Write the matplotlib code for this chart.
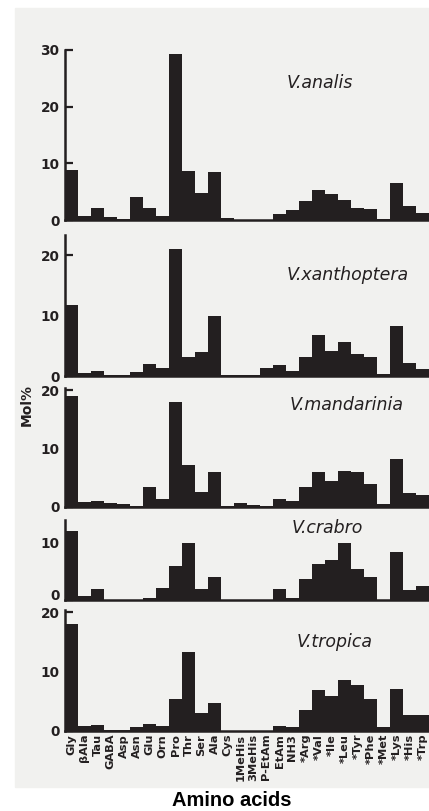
import matplotlib.pyplot as plt
from matplotlib.patches import Rectangle

# amino acid categories (x axis)
amino_acids = ['Gly', 'βAla', 'Tau', 'GABA', 'Asp', 'Asn', 'Glu', 'Orn', 'Pro',
               'Thr', 'Ser', 'Ala', 'Cys', '1MeHis', '3MeHis', 'P-EtAm', 'EtAm',
               'NH3', '*Arg', '*Val', '*Ile', '*Leu', '*Tyr', '*Phe', '*Met',
               '*Lys', '*His', '*Trp']

# Mol% per species
analis = [8.8, 0.7, 2.2, 0.5, 0.1, 4.1, 2.2, 0.7, 29.2, 8.7, 4.8, 8.4, 0.3,
          0.0, 0.0, 0.0, 1.0, 1.8, 3.4, 5.3, 4.5, 3.6, 2.1, 1.9, 0.2, 6.5, 2.4, 1.2]
xanthoptera = [11.8, 0.55, 0.8, 0.1, 0.1, 0.7, 2.0, 1.4, 21.0, 3.1, 3.9, 10.0, 0.1,
               0.1, 0.1, 1.3, 1.9, 0.9, 3.2, 6.8, 4.2, 5.7, 3.6, 3.2, 0.4, 8.3, 2.2, 1.1]
mandarinia = [19.0, 0.8, 1.0, 0.7, 0.5, 0.1, 3.5, 1.4, 17.9, 7.2, 2.6, 6.0, 0.1,
              0.7, 0.35, 0.1, 1.3, 1.0, 3.5, 6.0, 4.4, 6.2, 6.0, 4.0, 0.5, 8.2, 2.4, 2.1]
crabro = [12.0, 0.7, 1.9, 0.0, 0.0, 0.0, 0.4, 2.1, 6.0, 9.9, 1.9, 4.0, 0.0,
          0.0, 0.0, 0.0, 1.9, 0.4, 3.6, 6.2, 6.9, 10.0, 5.4, 4.0, 0.0, 8.3, 1.7, 2.5]
tropica = [17.9, 0.8, 1.0, 0.2, 0.2, 0.7, 1.15, 0.8, 5.4, 13.2, 3.0, 4.7, 0.0,
           0.0, 0.0, 0.0, 0.9, 0.6, 3.6, 6.9, 5.9, 8.6, 7.7, 5.4, 0.6, 7.0, 2.7, 2.7]

species = ['V.analis', 'V.xanthoptera', 'V.mandarinia', 'V.crabro', 'V.tropica']
series = [analis, xanthoptera, mandarinia, crabro, tropica]
yticks = [[0, 10, 20, 30], [0, 10, 20], [0, 10, 20], [0, 10], [0, 10, 20]]

# layout (pixels): baseline y, px per unit, y max, species label pos
W, H = 429, 811
layout = [(220, 5.67, 30.0, 0.61, 24.2),
          (376, 6.03, 23.4, 0.61, 16.7),
          (507, 5.85, 20.3, 0.618, 17.4),
          (600, 5.75, 14.0, 0.624, 12.5),
          (731, 5.95, 20.4, 0.637, 15.0)]

bar_color = '#231f20'

fig = plt.figure(figsize=(W / 100, H / 100), dpi=100)
fig.patch.set_facecolor('white')
bg = Rectangle((15 / W, 1 - 787 / H), 1, 779 / H, transform=fig.transFigure,
               color='#f1f1ef', zorder=-10)
fig.add_artist(bg)

x = range(len(amino_acids))
for i, (name, vals, ticks, lay) in enumerate(zip(species, series, yticks, layout)):
    base, unit, ymax, lx, ly = lay
    ax = fig.add_axes([65 / W, 1 - base / H, 364 / W, ymax * unit / H])
    ax.set_facecolor('none')
    ax.set_zorder(1)
    ax.bar(x, vals, width=1.0, color=bar_color, edgecolor='none')
    ax.set_xlim(-0.5, 27.5)
    ax.set_ylim(0, ymax)
    for s in ['top', 'right']:
        ax.spines[s].set_visible(False)
    for s in ['left', 'bottom']:
        ax.spines[s].set_linewidth(1.8)
        ax.spines[s].set_color(bar_color)
    ax.set_yticks(ticks)
    labels = ax.set_yticklabels([str(t) for t in ticks], fontsize=9.8, fontweight='bold',
                                family='DejaVu Sans', color=bar_color)
    ax.tick_params(axis='y', direction='in', length=6, width=1.6, pad=4,
                   color=bar_color)
    if name == 'V.crabro':
        # zero label sits a little above the baseline, as in the scan
        labels[0].set_verticalalignment('baseline')
    ax.set_xticks(list(x))
    if i == len(species) - 1:
        ax.set_xticklabels(amino_acids, rotation=90, fontsize=8.2, fontweight='bold',
                           family='DejaVu Sans', color=bar_color)
        ax.tick_params(axis='x', length=0, pad=2)
    else:
        ax.set_xticklabels([])
        ax.tick_params(axis='x', length=0)
    ax.text(lx, ly, name, transform=ax.get_yaxis_transform(), fontsize=12.5,
            style='italic', family='DejaVu Sans', color=bar_color,
            ha='left', va='center')

fig.text(27 / W, 1 - 405 / H, 'Mol%', rotation=90, fontsize=10, fontweight='bold',
         family='DejaVu Sans', color=bar_color, ha='center', va='center')
fig.text(232 / W, 1 - 800 / H, 'Amino acids', fontsize=14.5, fontweight='bold',
         family='Liberation Sans', color='black', ha='center', va='center')

fig.savefig('out.png', dpi=100, facecolor=fig.get_facecolor())
